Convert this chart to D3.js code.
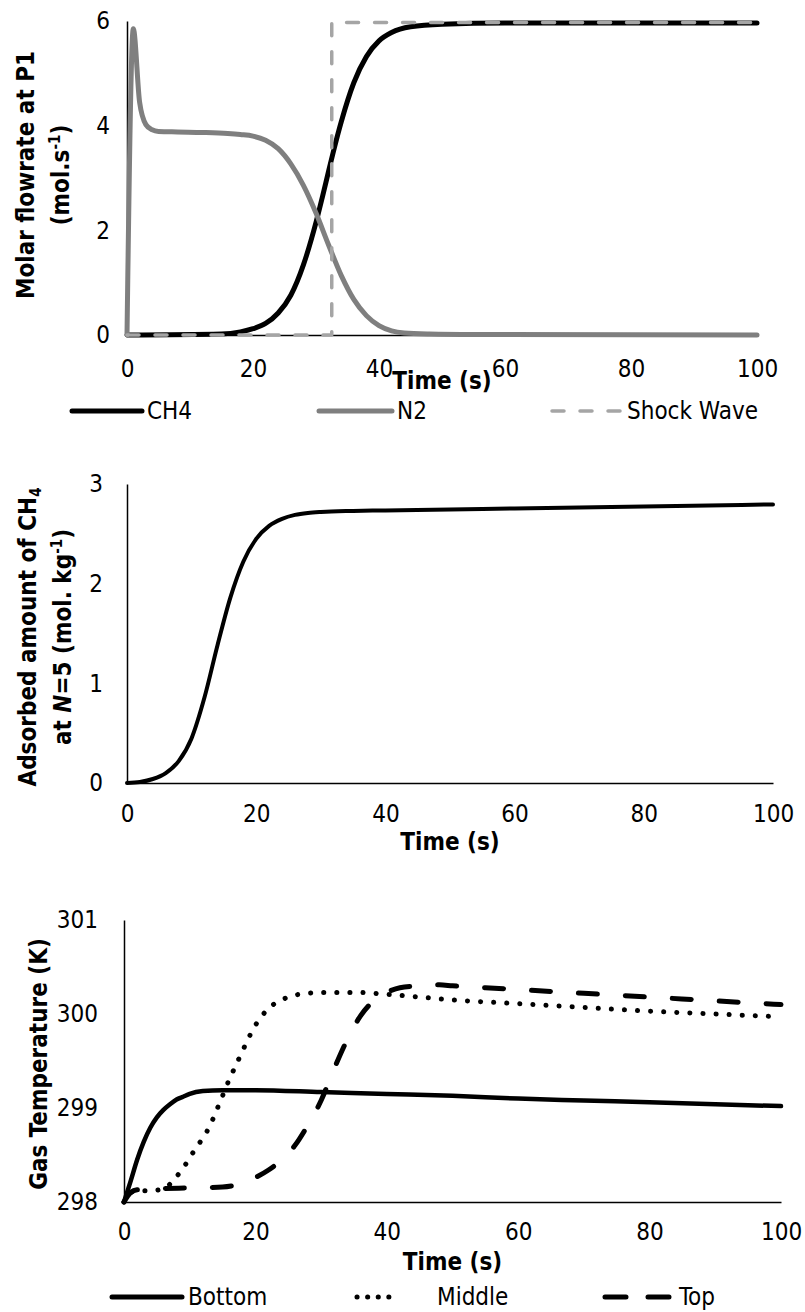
<!DOCTYPE html>
<meta charset="utf-8">
<body style="margin:0;background:#fff">
<svg id="chart" width="805" height="1312"></svg>
</body>
<script src="https://cdn.jsdelivr.net/npm/d3@7"></script>
<script>

// panel 1 - molar flowrate at P1
var flowTime  = [0, 15, 18, 20, 22, 24, 26, 28, 30, 31, 32, 33, 34, 36, 38, 40, 42, 45, 50, 60, 100];
var ch4Flow   = [0, 0.02, 0.06, 0.12, 0.22, 0.42, 0.76, 1.34, 2.15, 2.63, 3.13, 3.62, 4.07, 4.82, 5.32, 5.62, 5.78, 5.89, 5.94, 5.96, 5.96];
var n2Time    = [0, 1, 2, 3, 4, 5, 8, 12, 16, 18, 20, 22, 24, 26, 28, 30, 32, 34, 36, 38, 40, 42, 44, 48, 55, 100];
var n2Flow    = [0, 5.85, 4.45, 4.02, 3.92, 3.89, 3.88, 3.87, 3.85, 3.83, 3.8, 3.72, 3.56, 3.27, 2.86, 2.33, 1.72, 1.14, 0.68, 0.37, 0.18, 0.08, 0.04, 0.02, 0.01, 0];
var shockTime = [0, 32.5, 32.5, 100];
var shockFlow = [0, 0, 5.97, 5.97];
var flowTicks = [0, 2, 4, 6];

// panel 2 - adsorbed CH4 at N=5
var adsTime = [0, 2, 4, 6, 8, 10, 12, 14, 16, 18, 20, 22, 24, 26, 28, 30, 35, 40, 50, 60, 70, 80, 90, 100];
var adsCH4  = [0, 0.01, 0.04, 0.1, 0.22, 0.45, 0.86, 1.38, 1.86, 2.22, 2.45, 2.58, 2.65, 2.69, 2.71, 2.72, 2.73, 2.735, 2.745, 2.755, 2.765, 2.775, 2.785, 2.795];
var adsTicks = [0, 1, 2, 3];

// panel 3 - gas temperature
var bottomTime = [0, 1, 2, 3, 4, 5, 6, 7, 8, 9, 10, 12, 15, 20, 30, 40, 50, 60, 70, 80, 90, 100];
var bottomTemp = [298, 298.22, 298.45, 298.64, 298.79, 298.9, 298.98, 299.04, 299.09, 299.12, 299.15, 299.18, 299.19, 299.19, 299.17, 299.15, 299.13, 299.1, 299.08, 299.06, 299.04, 299.02];
var middleTime = [0, 1, 2, 4, 6, 7, 8, 9, 10, 11, 12, 13, 14, 15, 16, 17, 18, 19, 20, 21, 22, 24, 26, 28, 30, 35, 40, 45, 50, 60, 70, 80, 90, 100];
var middleTemp = [298, 298.1, 298.12, 298.12, 298.14, 298.19, 298.27, 298.36, 298.47, 298.58, 298.68, 298.8, 298.96, 299.13, 299.3, 299.45, 299.6, 299.75, 299.88, 299.98, 300.06, 300.15, 300.2, 300.22, 300.23, 300.23, 300.21, 300.18, 300.15, 300.11, 300.07, 300.03, 300, 299.97];
var topTime = [0, 1, 2, 5, 10, 15, 18, 20, 22, 24, 26, 28, 30, 32, 34, 36, 38, 40, 42, 45, 48, 50, 55, 60, 70, 80, 90, 100];
var topTemp = [298, 298.1, 298.13, 298.14, 298.15, 298.16, 298.2, 298.26, 298.34, 298.45, 298.6, 298.82, 299.08, 299.42, 299.73, 299.98, 300.14, 300.23, 300.28, 300.3, 300.31, 300.3, 300.28, 300.26, 300.22, 300.18, 300.14, 300.1];
var tempTicks = [298, 299, 300, 301];

var timeTicks = [0, 20, 40, 60, 80, 100];

var svg = d3.select("#chart");
var FONT = "'DejaVu Sans Condensed', 'DejaVu Sans', sans-serif";

function zip(xs, ys) {
  return xs.map((x, i) => [x, ys[i]]);
}

function drawPanel(p) {
  var x = d3.scaleLinear().domain([0, 100]).range([p.left, p.right]);
  var y = d3.scaleLinear().domain(p.yDomain).range([p.bottom, p.top]);

  var xAxis = svg.append("g")
      .attr("transform", "translate(0," + p.bottom + ")")
      .call(d3.axisBottom(x).tickValues(timeTicks).tickFormat(d3.format("d"))
        .tickSize(0).tickSizeOuter(0).tickPadding(p.xPad));
  var yAxis = svg.append("g")
      .attr("transform", "translate(" + p.left + ",0)")
      .call(d3.axisLeft(y).tickValues(p.yTicks).tickFormat(d3.format("d"))
        .tickSize(0).tickSizeOuter(0).tickPadding(p.yPad));

  [xAxis, yAxis].forEach(function(a) {
    a.select(".domain").attr("stroke", "#000").attr("stroke-width", 1.5);
    a.selectAll("text").attr("font-family", FONT).attr("font-size", 24)
      .attr("font-stretch", "condensed").attr("fill", "#000");
  });

  var line = d3.line().x(d => x(d[0])).y(d => y(d[1]));

  p.series.forEach(function(s) {
    svg.append("path")
        .datum(s.data)
        .attr("fill", "none")
        .attr("stroke", s.color)
        .attr("stroke-width", s.width)
        .attr("stroke-linecap", "round")
        .attr("stroke-linejoin", "round")
        .attr("stroke-dasharray", s.dash || null)
        .attr("d", line.curve(s.step ? d3.curveLinear : d3.curveMonotoneX));
  });

  // x title
  svg.append("text")
      .attr("x", (p.left + p.right) / 2)
      .attr("y", p.titleY)
      .attr("text-anchor", "middle")
      .attr("font-family", FONT).attr("font-stretch", "condensed")
      .attr("font-size", 24).attr("font-weight", "bold")
      .text("Time (s)");
  return {x: x, y: y};
}

function yTitle(lines, cx, cy) {
  var g = svg.append("g").attr("transform", "translate(" + cx + "," + cy + ") rotate(-90)");
  lines.forEach(function(parts, i) {
    var t = g.append("text")
        .attr("x", 0)
        .attr("y", i * 35)
        .attr("text-anchor", "middle")
        .attr("font-family", FONT).attr("font-stretch", "condensed")
        .attr("font-size", 24).attr("font-weight", "bold");
    parts.forEach(function(part) {
      var sp = t.append("tspan").text(part.t);
      if (part.sup) sp.attr("font-size", 15).attr("dy", -9);
      if (part.sub) sp.attr("font-size", 15).attr("dy", 5);
      if (part.back) sp.attr("dy", part.back);
      if (part.it) sp.attr("font-style", "italic");
    });
  });
}

function legend(items, y) {
  items.forEach(function(it) {
    svg.append("line")
        .attr("x1", it.x1).attr("x2", it.x2)
        .attr("y1", y).attr("y2", y)
        .attr("stroke", it.color)
        .attr("stroke-width", it.width)
        .attr("stroke-linecap", "round")
        .attr("stroke-dasharray", it.dash || null);
    svg.append("text")
        .attr("x", it.tx).attr("y", y + 8)
        .attr("font-family", FONT).attr("font-stretch", "condensed")
        .attr("font-size", 24)
        .text(it.label);
  });
}

// panel 1
drawPanel({
  left: 127, right: 757, top: 21, bottom: 335,
  yDomain: [0, 6], yTicks: flowTicks, xPad: 25, yPad: 17, titleY: 389,
  series: [
    {data: zip(flowTime, ch4Flow), color: "#000", width: 5},
    {data: zip(n2Time, n2Flow), color: "#7f7f7f", width: 5},
    {data: zip(shockTime, shockFlow), color: "#a5a5a5", width: 3.5, dash: "12,16", step: true}
  ]
});
yTitle([[{t: "Molar flowrate at P1"}], [{t: "(mol.s"}, {t: "-1", sup: true}, {t: ")", back: 9}]], 34, 175);
legend([
  {x1: 72, x2: 142, color: "#000", width: 5, tx: 147, label: "CH4"},
  {x1: 319, x2: 392, color: "#7f7f7f", width: 5, tx: 397, label: "N2"},
  {x1: 552, x2: 620, color: "#a5a5a5", width: 3.5, dash: "12,16", tx: 627, label: "Shock Wave"}
], 411);

// panel 2
drawPanel({
  left: 127, right: 773, top: 484, bottom: 783,
  yDomain: [0, 3], yTicks: adsTicks, xPad: 22, yPad: 24, titleY: 850,
  series: [
    {data: zip(adsTime, adsCH4), color: "#000", width: 4}
  ]
});
yTitle([[{t: "Adsorbed amount of CH"}, {t: "4", sub: true}],
        [{t: "at "}, {t: "N", it: true}, {t: "=5 (mol. kg"}, {t: "-1", sup: true}, {t: ")", back: 9}]], 36, 637);

// panel 3
drawPanel({
  left: 124, right: 781, top: 920, bottom: 1202,
  yDomain: [298, 301], yTicks: tempTicks, xPad: 21, yPad: 26, titleY: 1270,
  series: [
    {data: zip(bottomTime, bottomTemp), color: "#000", width: 4.5},
    {data: zip(middleTime, middleTemp), color: "#000", width: 5, dash: "0.1,13"},
    {data: zip(topTime, topTemp), color: "#000", width: 5, dash: "19,28"}
  ]
});
yTitle([[{t: "Gas Temperature  (K)"}]], 47, 1064);
legend([
  {x1: 112, x2: 182, color: "#000", width: 5, tx: 188, label: "Bottom"},
  {x1: 357, x2: 398, color: "#000", width: 5, dash: "0.1,10.5", tx: 437, label: "Middle"},
  {x1: 605, x2: 672, color: "#000", width: 5, dash: "21,22", tx: 679, label: "Top"}
], 1297);

</script>
